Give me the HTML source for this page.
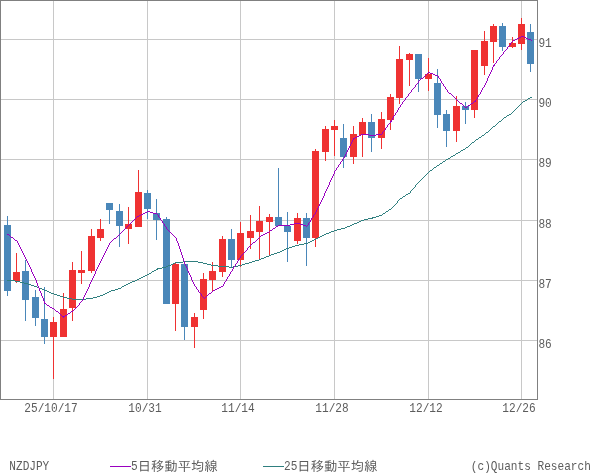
<!DOCTYPE html>
<html lang="ja"><head><meta charset="utf-8"><title>NZDJPY</title>
<style>html,body{margin:0;padding:0;background:#fff}svg{display:block;will-change:transform}text{font-family:"Liberation Mono","IPAGothic",monospace;font-size:13.33px;fill:#5c5c5c;white-space:pre}</style></head><body>
<svg width="600" height="475" viewBox="0 0 600 475">
<g shape-rendering="crispEdges" fill="#C8C8C8">
<rect x="1" y="39" width="536" height="1"/>
<rect x="1" y="99" width="536" height="1"/>
<rect x="1" y="159" width="536" height="1"/>
<rect x="1" y="220" width="536" height="1"/>
<rect x="1" y="280" width="536" height="1"/>
<rect x="1" y="340" width="536" height="1"/>
<rect x="53" y="1" width="1" height="398"/>
<rect x="147" y="1" width="1" height="398"/>
<rect x="240" y="1" width="1" height="398"/>
<rect x="334" y="1" width="1" height="398"/>
<rect x="428" y="1" width="1" height="398"/>
<rect x="521" y="1" width="1" height="398"/>
</g>
<g shape-rendering="crispEdges">
<rect x="7" y="216" width="1" height="80" fill="#4A87B9"/>
<rect x="4" y="225" width="7" height="66" fill="#4A87B9"/>
<rect x="16" y="253" width="1" height="30" fill="#EF3232"/>
<rect x="13" y="272" width="7" height="9" fill="#EF3232"/>
<rect x="25" y="260" width="1" height="61" fill="#4A87B9"/>
<rect x="22" y="271" width="7" height="29" fill="#4A87B9"/>
<rect x="35" y="290" width="1" height="36" fill="#4A87B9"/>
<rect x="32" y="297" width="7" height="21" fill="#4A87B9"/>
<rect x="44" y="287" width="1" height="57" fill="#4A87B9"/>
<rect x="41" y="319" width="7" height="18" fill="#4A87B9"/>
<rect x="53" y="317" width="1" height="62" fill="#EF3232"/>
<rect x="50" y="322" width="7" height="15" fill="#EF3232"/>
<rect x="63" y="293" width="1" height="44" fill="#EF3232"/>
<rect x="60" y="309" width="7" height="28" fill="#EF3232"/>
<rect x="72" y="262" width="1" height="59" fill="#EF3232"/>
<rect x="69" y="270" width="7" height="38" fill="#EF3232"/>
<rect x="81" y="251" width="1" height="33" fill="#EF3232"/>
<rect x="78" y="270" width="7" height="3" fill="#EF3232"/>
<rect x="91" y="229" width="1" height="44" fill="#EF3232"/>
<rect x="88" y="236" width="7" height="35" fill="#EF3232"/>
<rect x="100" y="219" width="1" height="22" fill="#EF3232"/>
<rect x="97" y="229" width="7" height="9" fill="#EF3232"/>
<rect x="109" y="203" width="1" height="21" fill="#4A87B9"/>
<rect x="106" y="203" width="7" height="7" fill="#4A87B9"/>
<rect x="119" y="204" width="1" height="43" fill="#4A87B9"/>
<rect x="116" y="211" width="7" height="15" fill="#4A87B9"/>
<rect x="128" y="207" width="1" height="37" fill="#EF3232"/>
<rect x="125" y="224" width="7" height="5" fill="#EF3232"/>
<rect x="138" y="170" width="1" height="57" fill="#EF3232"/>
<rect x="135" y="192" width="7" height="35" fill="#EF3232"/>
<rect x="147" y="190" width="1" height="29" fill="#4A87B9"/>
<rect x="144" y="193" width="7" height="16" fill="#4A87B9"/>
<rect x="156" y="199" width="1" height="41" fill="#4A87B9"/>
<rect x="153" y="213" width="7" height="7" fill="#4A87B9"/>
<rect x="166" y="217" width="1" height="87" fill="#4A87B9"/>
<rect x="163" y="219" width="7" height="85" fill="#4A87B9"/>
<rect x="175" y="262" width="1" height="69" fill="#EF3232"/>
<rect x="172" y="264" width="7" height="40" fill="#EF3232"/>
<rect x="184" y="261" width="1" height="79" fill="#4A87B9"/>
<rect x="181" y="264" width="7" height="63" fill="#4A87B9"/>
<rect x="194" y="313" width="1" height="35" fill="#EF3232"/>
<rect x="191" y="317" width="7" height="10" fill="#EF3232"/>
<rect x="203" y="273" width="1" height="46" fill="#EF3232"/>
<rect x="200" y="279" width="7" height="31" fill="#EF3232"/>
<rect x="212" y="262" width="1" height="29" fill="#EF3232"/>
<rect x="209" y="271" width="7" height="9" fill="#EF3232"/>
<rect x="222" y="236" width="1" height="41" fill="#EF3232"/>
<rect x="219" y="239" width="7" height="33" fill="#EF3232"/>
<rect x="231" y="229" width="1" height="38" fill="#4A87B9"/>
<rect x="228" y="239" width="7" height="21" fill="#4A87B9"/>
<rect x="240" y="222" width="1" height="45" fill="#EF3232"/>
<rect x="237" y="233" width="7" height="27" fill="#EF3232"/>
<rect x="250" y="215" width="1" height="34" fill="#EF3232"/>
<rect x="247" y="231" width="7" height="7" fill="#EF3232"/>
<rect x="259" y="206" width="1" height="54" fill="#EF3232"/>
<rect x="256" y="221" width="7" height="11" fill="#EF3232"/>
<rect x="269" y="214" width="1" height="42" fill="#EF3232"/>
<rect x="266" y="217" width="7" height="5" fill="#EF3232"/>
<rect x="278" y="168" width="1" height="58" fill="#4A87B9"/>
<rect x="275" y="217" width="7" height="9" fill="#4A87B9"/>
<rect x="287" y="212" width="1" height="50" fill="#4A87B9"/>
<rect x="284" y="226" width="7" height="6" fill="#4A87B9"/>
<rect x="297" y="213" width="1" height="31" fill="#EF3232"/>
<rect x="294" y="218" width="7" height="23" fill="#EF3232"/>
<rect x="306" y="213" width="1" height="53" fill="#4A87B9"/>
<rect x="303" y="218" width="7" height="20" fill="#4A87B9"/>
<rect x="315" y="149" width="1" height="98" fill="#EF3232"/>
<rect x="312" y="151" width="7" height="87" fill="#EF3232"/>
<rect x="325" y="126" width="1" height="35" fill="#EF3232"/>
<rect x="322" y="129" width="7" height="23" fill="#EF3232"/>
<rect x="334" y="120" width="1" height="36" fill="#EF3232"/>
<rect x="331" y="126" width="7" height="4" fill="#EF3232"/>
<rect x="343" y="124" width="1" height="44" fill="#4A87B9"/>
<rect x="340" y="138" width="7" height="19" fill="#4A87B9"/>
<rect x="353" y="126" width="1" height="38" fill="#EF3232"/>
<rect x="350" y="134" width="7" height="23" fill="#EF3232"/>
<rect x="362" y="118" width="1" height="39" fill="#EF3232"/>
<rect x="359" y="122" width="7" height="13" fill="#EF3232"/>
<rect x="371" y="114" width="1" height="38" fill="#4A87B9"/>
<rect x="368" y="122" width="7" height="16" fill="#4A87B9"/>
<rect x="381" y="112" width="1" height="37" fill="#EF3232"/>
<rect x="378" y="119" width="7" height="19" fill="#EF3232"/>
<rect x="390" y="94" width="1" height="36" fill="#EF3232"/>
<rect x="387" y="97" width="7" height="23" fill="#EF3232"/>
<rect x="399" y="46" width="1" height="58" fill="#EF3232"/>
<rect x="396" y="59" width="7" height="39" fill="#EF3232"/>
<rect x="409" y="53" width="1" height="33" fill="#EF3232"/>
<rect x="406" y="54" width="7" height="6" fill="#EF3232"/>
<rect x="418" y="54" width="1" height="38" fill="#4A87B9"/>
<rect x="415" y="54" width="7" height="25" fill="#4A87B9"/>
<rect x="428" y="58" width="1" height="33" fill="#EF3232"/>
<rect x="425" y="74" width="7" height="5" fill="#EF3232"/>
<rect x="437" y="69" width="1" height="59" fill="#4A87B9"/>
<rect x="434" y="83" width="7" height="32" fill="#4A87B9"/>
<rect x="446" y="110" width="1" height="37" fill="#4A87B9"/>
<rect x="443" y="114" width="7" height="17" fill="#4A87B9"/>
<rect x="456" y="96" width="1" height="46" fill="#EF3232"/>
<rect x="453" y="106" width="7" height="25" fill="#EF3232"/>
<rect x="465" y="102" width="1" height="22" fill="#4A87B9"/>
<rect x="462" y="106" width="7" height="4" fill="#4A87B9"/>
<rect x="474" y="50" width="1" height="68" fill="#EF3232"/>
<rect x="471" y="50" width="7" height="60" fill="#EF3232"/>
<rect x="484" y="31" width="1" height="44" fill="#EF3232"/>
<rect x="481" y="41" width="7" height="25" fill="#EF3232"/>
<rect x="493" y="24" width="1" height="39" fill="#EF3232"/>
<rect x="490" y="26" width="7" height="16" fill="#EF3232"/>
<rect x="502" y="23" width="1" height="28" fill="#4A87B9"/>
<rect x="499" y="26" width="7" height="21" fill="#4A87B9"/>
<rect x="512" y="37" width="1" height="11" fill="#EF3232"/>
<rect x="509" y="43" width="7" height="4" fill="#EF3232"/>
<rect x="521" y="18" width="1" height="32" fill="#EF3232"/>
<rect x="518" y="24" width="7" height="20" fill="#EF3232"/>
<rect x="530" y="24" width="1" height="48" fill="#4A87B9"/>
<rect x="527" y="32" width="7" height="32" fill="#4A87B9"/>
</g>
<path d="M7 280h8v1h-8zM15 281h5v1h-5zM20 282h4v1h-4zM24 283h4v1h-4zM28 284h3v1h-3zM31 285h3v1h-3zM34 286h3v1h-3zM37 287h2v1h-2zM39 288h3v1h-3zM42 289h2v1h-2zM44 290h3v1h-3zM47 291h2v1h-2zM49 292h2v1h-2zM51 293h3v1h-3zM54 294h3v1h-3zM57 295h3v1h-3zM60 296h3v1h-3zM63 297h4v1h-4zM67 298h5v1h-5zM72 299h14v1h-14zM86 298h7v1h-7zM93 297h4v1h-4zM97 296h3v1h-3zM100 295h3v1h-3zM103 294h2v1h-2zM105 293h2v1h-2zM107 292h2v1h-2zM109 291h2v1h-2zM111 290h4v1h-4zM115 289h3v1h-3zM118 288h3v1h-3zM121 287h1v1h-1zM122 286h2v1h-2zM124 285h2v1h-2zM126 284h2v1h-2zM128 283h2v1h-2zM130 282h2v1h-2zM132 281h3v1h-3zM135 280h2v1h-2zM137 279h2v1h-2zM139 278h2v1h-2zM141 277h2v1h-2zM143 276h2v1h-2zM145 275h2v1h-2zM147 274h2v1h-2zM149 273h2v1h-2zM151 272h1v1h-1zM152 271h2v1h-2zM154 270h2v1h-2zM156 269h2v1h-2zM157 268h5v1h-5zM162 267h4v1h-4zM166 266h2v1h-2zM168 265h3v1h-3zM171 264h2v1h-2zM173 263h2v1h-2zM175 262h8v1h-8zM183 261h15v1h-15zM198 262h5v1h-5zM203 263h4v1h-4zM207 264h4v1h-4zM211 265h7v1h-7zM218 266h11v1h-11zM229 267h4v1h-4zM233 266h5v1h-5zM238 265h4v1h-4zM242 264h3v1h-3zM245 263h4v1h-4zM249 262h3v1h-3zM252 261h3v1h-3zM255 260h4v1h-4zM259 259h2v1h-2zM261 258h3v1h-3zM264 257h2v1h-2zM266 256h3v1h-3zM269 255h2v1h-2zM271 254h3v1h-3zM274 253h3v1h-3zM277 252h3v1h-3zM280 251h2v1h-2zM282 250h2v1h-2zM284 249h2v1h-2zM286 248h3v1h-3zM289 247h3v1h-3zM292 246h3v1h-3zM295 245h4v1h-4zM299 244h5v1h-5zM304 243h4v1h-4zM308 242h2v1h-2zM310 241h2v1h-2zM312 240h2v1h-2zM314 239h2v1h-2zM316 238h2v1h-2zM318 237h2v1h-2zM320 236h2v1h-2zM322 235h2v1h-2zM324 234h2v1h-2zM326 233h3v1h-3zM329 232h2v1h-2zM331 231h3v1h-3zM334 230h3v1h-3zM337 229h4v1h-4zM341 228h4v1h-4zM345 227h2v1h-2zM347 226h3v1h-3zM350 225h2v1h-2zM352 224h2v1h-2zM354 223h3v1h-3zM357 222h2v1h-2zM359 221h2v1h-2zM361 220h3v1h-3zM364 219h4v1h-4zM368 218h5v1h-5zM372 217h4v1h-4zM376 216h3v1h-3zM379 215h3v1h-3zM382 214h1v1h-1zM383 213h2v1h-2zM385 212h1v1h-1zM386 211h2v1h-2zM388 210h1v1h-1zM389 209h2v1h-2zM391 208h1v1h-1zM392 207h1v1h-1zM393 206h1v1h-1zM394 205h1v1h-1zM395 204h1v1h-1zM396 203h1v1h-1zM397 201h1v2h-1zM398 200h1v1h-1zM399 199h1v1h-1zM400 198h2v1h-2zM402 197h1v1h-1zM403 196h2v1h-2zM405 195h1v1h-1zM406 194h2v1h-2zM408 193h2v1h-2zM410 191h1v2h-1zM411 190h1v1h-1zM412 189h1v1h-1zM413 188h1v1h-1zM414 187h1v1h-1zM415 185h1v2h-1zM416 184h1v1h-1zM417 183h1v1h-1zM418 182h1v1h-1zM419 181h1v1h-1zM420 180h1v1h-1zM421 179h1v1h-1zM422 178h1v1h-1zM423 177h1v1h-1zM424 176h1v1h-1zM425 175h1v1h-1zM426 174h1v1h-1zM427 173h1v1h-1zM428 172h1v1h-1zM429 171h1v1h-1zM430 170h2v1h-2zM432 169h1v1h-1zM433 168h1v1h-1zM434 167h2v1h-2zM436 166h1v1h-1zM437 165h2v1h-2zM439 164h1v1h-1zM440 163h2v1h-2zM442 162h1v1h-1zM443 161h2v1h-2zM445 160h1v1h-1zM446 159h2v1h-2zM448 158h2v1h-2zM450 157h1v1h-1zM451 156h2v1h-2zM453 155h2v1h-2zM455 154h1v1h-1zM456 153h2v1h-2zM458 152h2v1h-2zM460 151h1v1h-1zM461 150h2v1h-2zM463 149h2v1h-2zM465 148h1v1h-1zM466 147h2v1h-2zM468 146h1v1h-1zM469 145h1v1h-1zM470 144h1v1h-1zM471 143h1v1h-1zM472 142h2v1h-2zM474 141h1v1h-1zM475 140h1v1h-1zM476 139h2v1h-2zM478 138h1v1h-1zM479 137h2v1h-2zM481 136h1v1h-1zM482 135h2v1h-2zM484 134h1v1h-1zM485 133h1v1h-1zM486 132h2v1h-2zM488 131h1v1h-1zM489 130h1v1h-1zM490 129h1v1h-1zM491 128h1v1h-1zM492 127h1v1h-1zM493 126h2v1h-2zM495 125h1v1h-1zM496 124h1v1h-1zM497 123h1v1h-1zM498 122h1v1h-1zM499 121h2v1h-2zM501 120h1v1h-1zM502 119h1v1h-1zM503 118h1v1h-1zM504 117h2v1h-2zM506 116h1v1h-1zM507 115h2v1h-2zM509 114h2v1h-2zM511 113h1v1h-1zM512 112h1v1h-1zM513 111h1v1h-1zM514 110h1v1h-1zM515 109h1v1h-1zM516 108h1v1h-1zM517 107h1v1h-1zM518 106h1v1h-1zM519 105h1v1h-1zM520 104h1v1h-1zM521 103h1v1h-1zM522 102h1v1h-1zM523 101h2v1h-2zM525 100h2v1h-2zM527 99h1v1h-1zM528 98h2v1h-2zM530 97h2v1h-2z" fill="#2F7F7F" shape-rendering="crispEdges"/>
<path d="M7 234h2v1h-2zM9 235h1v1h-1zM10 236h1v1h-1zM11 237h2v1h-2zM13 238h1v1h-1zM14 239h1v1h-1zM15 240h2v1h-2zM17 241h1v2h-1zM18 243h1v2h-1zM19 245h1v2h-1zM20 247h1v2h-1zM21 249h1v2h-1zM22 251h1v2h-1zM23 253h1v2h-1zM24 255h1v2h-1zM25 257h1v2h-1zM26 259h1v2h-1zM27 261h1v2h-1zM28 263h1v2h-1zM29 265h1v2h-1zM30 267h1v2h-1zM31 269h1v3h-1zM32 272h1v2h-1zM33 274h1v2h-1zM34 276h1v2h-1zM35 278h1v2h-1zM36 280h1v3h-1zM37 283h1v3h-1zM38 286h1v2h-1zM39 288h1v3h-1zM40 291h1v2h-1zM41 293h1v3h-1zM42 296h1v2h-1zM43 298h1v3h-1zM44 301h1v3h-1zM45 303h1v1h-1zM46 304h1v1h-1zM47 305h2v1h-2zM49 306h1v1h-1zM50 307h2v1h-2zM52 308h2v1h-2zM54 309h1v1h-1zM55 310h1v1h-1zM56 311h2v1h-2zM58 312h1v1h-1zM59 313h1v1h-1zM60 314h1v1h-1zM61 315h1v1h-1zM62 316h3v1h-3zM63 317h1v1h-1zM65 315h2v1h-2zM67 314h1v1h-1zM68 313h2v1h-2zM70 312h1v1h-1zM71 311h2v1h-2zM73 310h1v1h-1zM74 309h1v1h-1zM75 308h1v1h-1zM76 307h1v1h-1zM77 306h1v1h-1zM78 305h1v1h-1zM79 303h1v2h-1zM80 302h1v1h-1zM81 301h1v1h-1zM82 300h1v1h-1zM83 297h1v3h-1zM84 295h1v2h-1zM85 293h1v2h-1zM86 291h1v2h-1zM87 289h1v2h-1zM88 287h1v2h-1zM89 284h1v3h-1zM90 282h1v2h-1zM91 280h1v2h-1zM92 278h1v2h-1zM93 276h1v2h-1zM94 274h1v2h-1zM95 271h1v3h-1zM96 269h1v2h-1zM97 267h1v2h-1zM98 265h1v2h-1zM99 263h1v2h-1zM100 261h1v2h-1zM101 259h1v2h-1zM102 257h1v2h-1zM103 255h1v2h-1zM104 253h1v2h-1zM105 251h1v2h-1zM106 249h1v2h-1zM107 247h1v2h-1zM108 245h1v2h-1zM109 243h1v2h-1zM110 242h1v1h-1zM111 241h1v1h-1zM112 240h1v1h-1zM113 239h1v1h-1zM114 238h2v1h-2zM116 237h1v1h-1zM117 236h1v1h-1zM118 235h1v1h-1zM119 234h1v1h-1zM120 233h1v1h-1zM121 232h1v1h-1zM122 231h1v1h-1zM123 230h1v1h-1zM124 229h1v1h-1zM125 228h1v1h-1zM126 227h1v1h-1zM127 226h1v1h-1zM128 225h1v1h-1zM129 224h1v1h-1zM130 223h1v1h-1zM131 222h1v1h-1zM132 221h1v1h-1zM133 220h1v1h-1zM134 219h1v1h-1zM135 218h1v1h-1zM136 217h1v1h-1zM137 216h2v1h-2zM139 215h2v1h-2zM141 214h2v1h-2zM143 213h2v1h-2zM145 212h2v1h-2zM147 211h3v1h-3zM150 212h3v1h-3zM153 213h4v1h-4zM157 214h1v1h-1zM158 215h1v2h-1zM159 217h1v1h-1zM160 218h1v2h-1zM161 220h1v1h-1zM162 221h1v2h-1zM163 223h1v1h-1zM164 224h1v2h-1zM165 226h1v1h-1zM166 227h1v2h-1zM167 229h1v1h-1zM168 230h1v1h-1zM169 231h1v1h-1zM170 232h1v1h-1zM171 233h1v1h-1zM172 234h1v1h-1zM173 235h1v1h-1zM174 236h1v1h-1zM175 237h1v1h-1zM176 238h1v3h-1zM177 241h1v2h-1zM178 243h1v3h-1zM179 246h1v3h-1zM180 249h1v3h-1zM181 252h1v3h-1zM182 255h1v3h-1zM183 258h1v3h-1zM184 261h1v3h-1zM185 264h1v2h-1zM186 266h1v2h-1zM187 268h1v3h-1zM188 271h1v2h-1zM189 273h1v2h-1zM190 275h1v2h-1zM191 277h1v3h-1zM192 280h1v2h-1zM193 282h1v2h-1zM194 284h1v2h-1zM195 286h1v1h-1zM196 287h1v2h-1zM197 289h1v1h-1zM198 290h1v2h-1zM199 292h1v1h-1zM200 293h1v1h-1zM201 294h1v2h-1zM202 296h1v1h-1zM203 297h1v1h-1zM204 298h1v1h-1zM205 297h1v1h-1zM206 296h1v1h-1zM207 295h1v1h-1zM208 294h1v1h-1zM209 293h2v1h-2zM211 292h1v1h-1zM212 291h1v1h-1zM213 290h2v1h-2zM215 289h2v1h-2zM217 288h2v1h-2zM219 287h2v1h-2zM221 286h2v1h-2zM223 284h1v2h-1zM224 282h1v2h-1zM225 281h1v1h-1zM226 279h1v2h-1zM227 277h1v2h-1zM228 276h1v1h-1zM229 274h1v2h-1zM230 272h1v2h-1zM231 271h1v1h-1zM232 269h1v2h-1zM233 267h1v2h-1zM234 266h1v1h-1zM235 264h1v2h-1zM236 263h1v1h-1zM237 261h1v2h-1zM238 259h1v2h-1zM239 258h1v1h-1zM240 256h1v2h-1zM241 255h1v1h-1zM242 254h1v1h-1zM243 253h1v1h-1zM244 252h1v1h-1zM245 251h1v1h-1zM246 250h1v1h-1zM247 248h1v2h-1zM248 247h1v1h-1zM249 246h1v1h-1zM250 245h1v1h-1zM251 244h1v1h-1zM252 243h1v1h-1zM253 242h2v1h-2zM255 241h1v1h-1zM256 240h1v1h-1zM257 239h1v1h-1zM258 238h1v1h-1zM259 237h1v1h-1zM260 236h1v1h-1zM261 235h2v1h-2zM263 234h2v1h-2zM265 233h2v1h-2zM267 232h2v1h-2zM269 231h1v1h-1zM270 230h2v1h-2zM272 229h1v1h-1zM273 228h2v1h-2zM275 227h1v1h-1zM276 226h2v1h-2zM278 225h12v1h-12zM290 224h4v1h-4zM294 223h6v1h-6zM300 224h3v1h-3zM303 225h3v1h-3zM306 226h1v1h-1zM307 225h1v1h-1zM308 223h1v2h-1zM309 222h1v1h-1zM310 220h1v2h-1zM311 218h1v2h-1zM312 217h1v1h-1zM313 215h1v2h-1zM314 214h1v1h-1zM315 212h1v2h-1zM316 210h1v2h-1zM317 208h1v2h-1zM318 206h1v2h-1zM319 204h1v2h-1zM320 202h1v2h-1zM321 200h1v2h-1zM322 198h1v2h-1zM323 196h1v2h-1zM324 193h1v3h-1zM325 191h1v2h-1zM326 189h1v2h-1zM327 187h1v2h-1zM328 185h1v2h-1zM329 182h1v3h-1zM330 180h1v2h-1zM331 178h1v2h-1zM332 176h1v2h-1zM333 174h1v2h-1zM334 171h1v3h-1zM335 170h1v1h-1zM336 168h1v2h-1zM337 167h1v1h-1zM338 165h1v2h-1zM339 164h1v1h-1zM340 162h1v2h-1zM341 161h1v1h-1zM342 159h1v2h-1zM343 158h1v1h-1zM344 156h1v2h-1zM345 154h1v2h-1zM346 152h1v2h-1zM347 150h1v2h-1zM348 148h1v2h-1zM349 146h1v2h-1zM350 144h1v2h-1zM351 142h1v2h-1zM352 140h1v2h-1zM353 138h2v1h-2zM353 139h1v1h-1zM355 137h2v1h-2zM357 136h2v1h-2zM359 135h2v1h-2zM361 134h8v1h-8zM369 135h7v1h-7zM376 134h6v1h-6zM382 132h1v2h-1zM383 131h1v1h-1zM384 130h1v1h-1zM385 128h1v2h-1zM386 127h1v1h-1zM387 125h1v2h-1zM388 124h1v1h-1zM389 123h1v1h-1zM390 121h2v1h-2zM390 122h1v1h-1zM391 120h1v1h-1zM392 118h1v2h-1zM393 116h1v2h-1zM394 115h1v1h-1zM395 113h1v2h-1zM396 112h1v1h-1zM397 110h1v2h-1zM398 108h1v2h-1zM399 107h1v1h-1zM400 105h1v2h-1zM401 104h1v1h-1zM402 102h1v2h-1zM403 101h1v1h-1zM404 100h1v1h-1zM405 98h1v2h-1zM406 97h1v1h-1zM407 96h1v1h-1zM408 94h1v2h-1zM409 93h1v1h-1zM410 92h1v1h-1zM411 90h1v2h-1zM412 89h1v1h-1zM413 88h1v1h-1zM414 87h1v1h-1zM415 85h1v2h-1zM416 84h1v1h-1zM417 83h1v1h-1zM418 81h1v2h-1zM419 80h1v1h-1zM420 79h1v1h-1zM421 78h2v1h-2zM423 77h1v1h-1zM424 76h1v1h-1zM425 75h1v1h-1zM426 74h1v1h-1zM427 73h1v1h-1zM428 72h2v1h-2zM430 73h3v1h-3zM433 74h2v1h-2zM435 75h3v1h-3zM438 76h1v2h-1zM439 78h1v1h-1zM440 79h1v2h-1zM441 81h1v2h-1zM442 83h1v1h-1zM443 84h1v2h-1zM444 86h1v1h-1zM445 87h1v2h-1zM446 89h1v1h-1zM447 90h1v2h-1zM448 92h1v1h-1zM449 93h2v1h-2zM451 94h1v1h-1zM452 95h1v1h-1zM453 96h1v1h-1zM454 97h1v1h-1zM455 98h1v1h-1zM456 99h1v1h-1zM457 100h1v1h-1zM458 101h1v1h-1zM459 102h1v1h-1zM460 103h2v1h-2zM462 104h1v1h-1zM463 105h1v1h-1zM464 106h1v1h-1zM465 107h2v1h-2zM467 106h1v1h-1zM468 105h2v1h-2zM470 104h1v1h-1zM471 103h2v1h-2zM473 102h1v1h-1zM474 101h2v1h-2zM475 100h1v1h-1zM476 99h1v1h-1zM477 97h1v2h-1zM478 95h1v2h-1zM479 94h1v1h-1zM480 92h1v2h-1zM481 90h1v2h-1zM482 88h1v2h-1zM483 87h1v1h-1zM484 85h1v2h-1zM485 83h1v2h-1zM486 81h1v2h-1zM487 78h1v3h-1zM488 76h1v2h-1zM489 74h1v2h-1zM490 72h1v2h-1zM491 70h1v2h-1zM492 67h1v3h-1zM493 65h2v1h-2zM493 66h1v1h-1zM494 64h1v1h-1zM495 63h1v1h-1zM496 61h1v2h-1zM497 60h1v1h-1zM498 59h1v1h-1zM499 57h1v2h-1zM500 56h1v1h-1zM501 55h1v1h-1zM502 54h1v1h-1zM503 52h1v2h-1zM504 51h1v1h-1zM505 50h1v1h-1zM506 49h1v1h-1zM507 47h1v2h-1zM508 46h1v1h-1zM509 45h1v1h-1zM510 43h1v2h-1zM511 42h1v1h-1zM512 41h1v1h-1zM513 40h2v1h-2zM515 39h2v1h-2zM517 38h2v1h-2zM519 37h2v1h-2zM521 36h3v1h-3zM524 37h2v1h-2zM526 38h2v1h-2zM528 39h3v1h-3zM531 40h1v1h-1z" fill="#9A00C0" shape-rendering="crispEdges"/>
<g shape-rendering="crispEdges" fill="#808080">
<rect x="0" y="0" width="538" height="1"/><rect x="0" y="399" width="538" height="1"/><rect x="0" y="0" width="1" height="400"/><rect x="537" y="0" width="1" height="400"/>
</g>
<g opacity="0.999">
<text x="538.40" y="47.30" textLength="13.33" lengthAdjust="spacingAndGlyphs">91</text>
<text x="538.40" y="107.30" textLength="13.33" lengthAdjust="spacingAndGlyphs">90</text>
<text x="538.40" y="167.30" textLength="13.33" lengthAdjust="spacingAndGlyphs">89</text>
<text x="538.40" y="228.30" textLength="13.33" lengthAdjust="spacingAndGlyphs">88</text>
<text x="538.40" y="288.30" textLength="13.33" lengthAdjust="spacingAndGlyphs">87</text>
<text x="538.40" y="348.30" textLength="13.33" lengthAdjust="spacingAndGlyphs">86</text>
<text x="24.33" y="412.40" textLength="53.34" lengthAdjust="spacingAndGlyphs">25/10/17</text>
<text x="128.33" y="412.40" textLength="33.34" lengthAdjust="spacingAndGlyphs">10/31</text>
<text x="221.33" y="412.40" textLength="33.34" lengthAdjust="spacingAndGlyphs">11/14</text>
<text x="315.33" y="412.40" textLength="33.34" lengthAdjust="spacingAndGlyphs">11/28</text>
<text x="409.33" y="412.40" textLength="33.34" lengthAdjust="spacingAndGlyphs">12/12</text>
<text x="502.33" y="412.40" textLength="33.34" lengthAdjust="spacingAndGlyphs">12/26</text>
<text x="9.30" y="470.30" textLength="40.00" lengthAdjust="spacingAndGlyphs">NZDJPY</text>
<rect x="110" y="466" width="21" height="1" fill="#9A00C0" shape-rendering="crispEdges"/>
<text x="131" y="470.3"><tspan textLength="6.67" lengthAdjust="spacingAndGlyphs">5</tspan><tspan x="137.67" y="470.7">日移動平均線</tspan></text>
<rect x="263" y="466" width="21" height="1" fill="#2F7F7F" shape-rendering="crispEdges"/>
<text x="284" y="470.3"><tspan textLength="13.33" lengthAdjust="spacingAndGlyphs">25</tspan><tspan x="297.33" y="470.7">日移動平均線</tspan></text>
<text x="470.80" y="470.30" textLength="120.01" lengthAdjust="spacingAndGlyphs">(c)Quants Research</text>
</g>
</svg></body></html>
